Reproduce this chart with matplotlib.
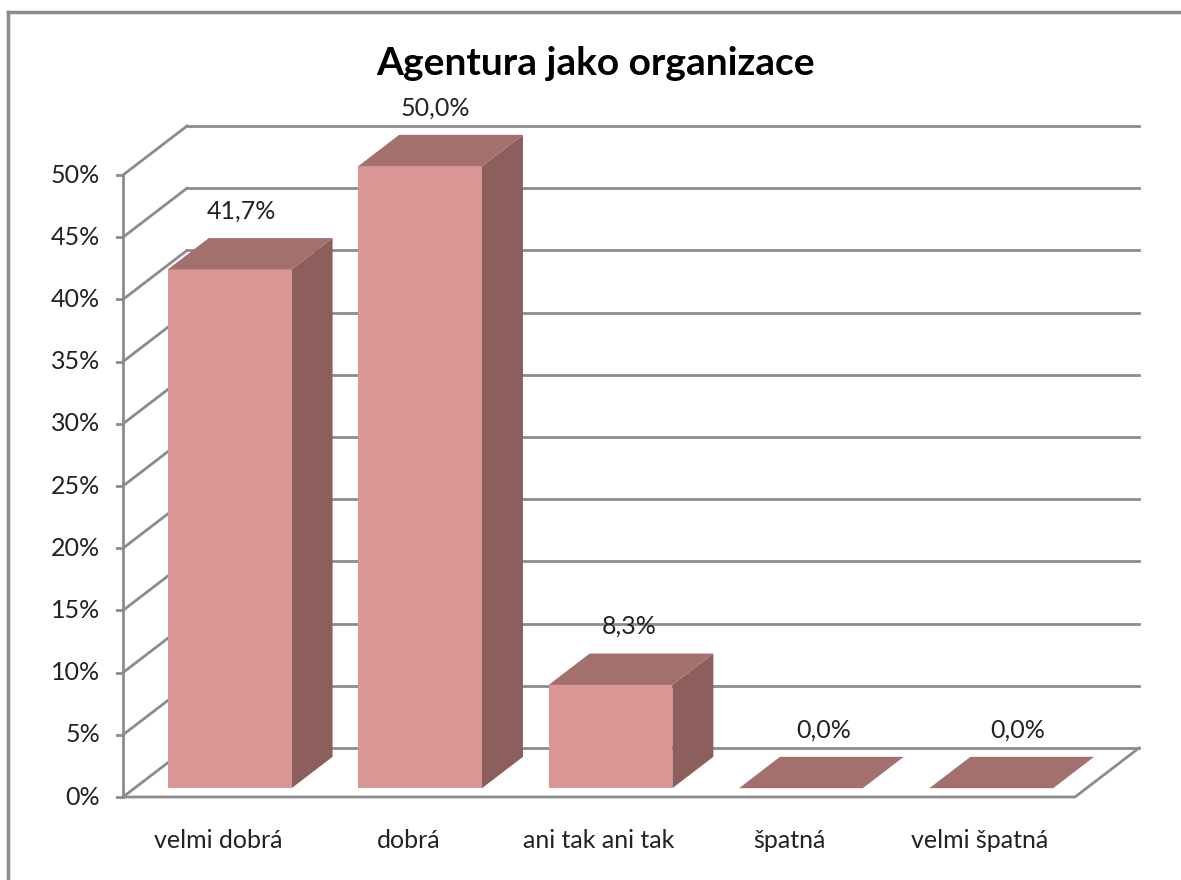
import numpy as np
import matplotlib
matplotlib.use('Agg')
import matplotlib.pyplot as plt
from matplotlib.patches import Polygon

categories = ['velmi dobrá', 'dobrá', 'ani tak ani tak', 'špatná', 'velmi špatná']
values = [41.7, 50.0, 8.3, 0.0, 0.0]
yticks = [0, 5, 10, 15, 20, 25, 30, 35, 40, 45, 50]
title = 'Agentura jako organizace'

W, H = 1181, 880
# pixel mapping: x unit = one category slot, y unit = one percent
x0_px, slot_px = 123, 190.4
y0_px, pct_px = 797, 12.44

# depth vector (data units) of the full floor
DX, DY = 64 / slot_px, 49 / pct_px
d_front, d_back = 0.18, 0.82
bar_w = 0.65

col_front = '#D99694'
col_top = '#A4706E'
col_side = '#8C5E5C'
col_grid = '#8C8C8C'

plt.rcParams['font.family'] = ['Lato', 'DejaVu Sans']

fig = plt.figure(figsize=(W / 100, H / 100), dpi=100)
ax = fig.add_axes([0, 0, 1, 1])
ax.set_xlim(-x0_px / slot_px, (W - x0_px) / slot_px)
ax.set_ylim((y0_px - H) / pct_px, y0_px / pct_px)
ax.axis('off')

n = len(categories)
xmax = n

# back wall gridlines + left wall diagonals
for t in yticks:
    ax.plot([DX, xmax + DX], [t + DY, t + DY], color=col_grid, lw=2, zorder=1)
    ax.plot([0, DX], [t, t + DY], color=col_grid, lw=2, zorder=1)
    ax.plot([-0.03, 0], [t, t], color=col_grid, lw=2, zorder=1)
    ax.text(-0.12, t, '%d%%' % t, ha='right', va='center', fontsize=18, color='#222222')

# front axis and floor outline
ax.plot([0, 0], [0, max(yticks)], color=col_grid, lw=2, zorder=1)
ax.plot([0, xmax, xmax + DX], [0, 0, DY], color=col_grid, lw=2, zorder=1)

for i, (cat, v) in enumerate(zip(categories, values)):
    xl = i + (1 - bar_w) / 2 + d_front * DX
    xr = xl + bar_w
    yb = d_front * DY
    ddx = (d_back - d_front) * DX
    ddy = (d_back - d_front) * DY
    top = yb + v
    # side face
    ax.add_patch(Polygon([(xr, yb), (xr + ddx, yb + ddy), (xr + ddx, top + ddy), (xr, top)],
                         closed=True, facecolor=col_side, edgecolor='none', zorder=3))
    # front face
    ax.add_patch(Polygon([(xl, yb), (xr, yb), (xr, top), (xl, top)],
                         closed=True, facecolor=col_front, edgecolor='none', zorder=3))
    # top face
    ax.add_patch(Polygon([(xl, top), (xr, top), (xr + ddx, top + ddy), (xl + ddx, top + ddy)],
                         closed=True, facecolor=col_top, edgecolor='none', zorder=4))
    # value label
    lx = i + 0.5 + d_front * DX + 0.06 + 0.02 * i
    ax.text(lx, v + 5.4, ('%.1f%%' % v).replace('.', ','), ha='center', va='center',
            fontsize=18, color='#222222', zorder=5)
    # category label
    ax.text(i + 0.5, -3.5, cat, ha='center', va='center', fontsize=18, color='#222222')

ax.text((W / 2 + 5 - x0_px) / slot_px, (y0_px - 63) / pct_px, title, ha='center', va='center',
        fontsize=28, fontweight='bold', color='black')

# chart border (top and left visible)
fig.add_artist(plt.Line2D([8 / W, 8 / W], [0, 1 - 12 / H], color=col_grid, lw=2.5))
fig.add_artist(plt.Line2D([8 / W, 1], [1 - 12 / H, 1 - 12 / H], color=col_grid, lw=2.5))

fig.savefig('out.png', dpi=100)
